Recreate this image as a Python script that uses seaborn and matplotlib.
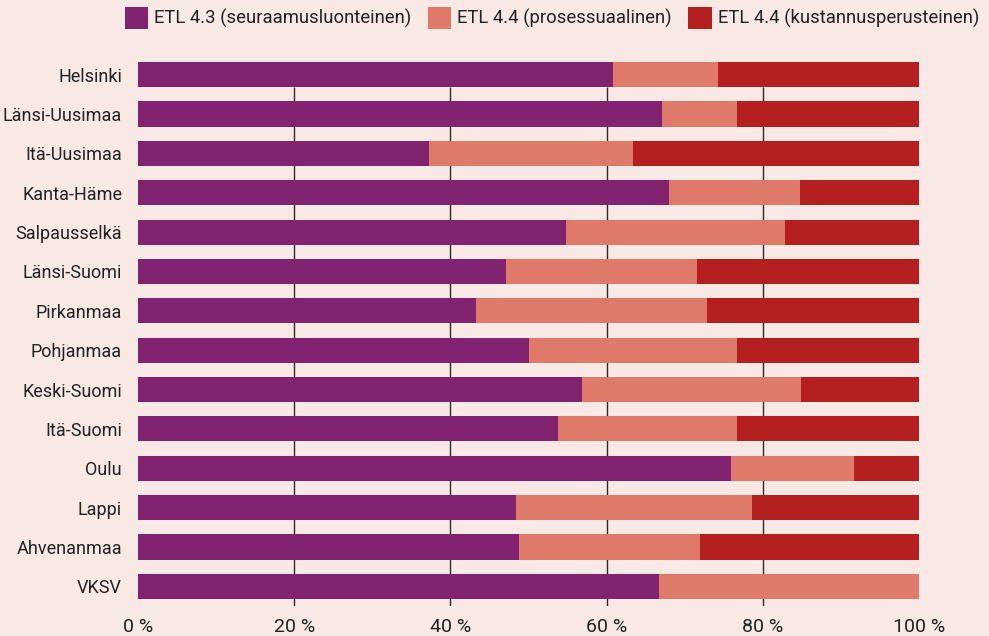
import matplotlib
matplotlib.use("Agg")
import matplotlib.pyplot as plt
import seaborn as sns
import pandas as pd
import numpy as np
from matplotlib.patches import Patch

regions = ["Helsinki", "Länsi-Uusimaa", "Itä-Uusimaa", "Kanta-Häme", "Salpausselkä",
           "Länsi-Suomi", "Pirkanmaa", "Pohjanmaa", "Keski-Suomi", "Itä-Suomi",
           "Oulu", "Lappi", "Ahvenanmaa", "VKSV"]
etl43 = [60.8, 67.1, 37.3, 68.0, 54.8, 47.1, 43.3, 50.1, 56.8, 53.8, 75.9, 48.4, 48.8, 66.7]
etl44_pros = [13.5, 9.6, 26.1, 16.8, 28.0, 24.5, 29.6, 26.6, 28.1, 22.9, 15.8, 30.2, 23.2, 33.3]
etl44_kust = [25.7, 23.3, 36.6, 15.2, 17.2, 28.4, 27.1, 23.3, 15.1, 23.3, 8.3, 21.4, 28.0, 0.0]
series_names = ["ETL 4.3 (seuraamusluonteinen)", "ETL 4.4 (prosessuaalinen)",
                "ETL 4.4 (kustannusperusteinen)"]
xticks = [0, 20, 40, 60, 80, 100]
xticklabels = ["0 %", "20 %", "40 %", "60 %", "80 %", "100 %"]

colors = ["#82236f", "#df7a6a", "#b41f20"]
bg = "#f9e9e4"

sns.set_theme(style="white")
plt.rcParams["font.family"] = ["Roboto", "DejaVu Sans"]
fs = 13.0

df = pd.DataFrame({"region": regions, "a": etl43, "b": etl44_pros, "c": etl44_kust})
df["ab"] = df["a"] + df["b"]
df["abc"] = df["ab"] + df["c"]

fig = plt.figure(figsize=(9.89, 6.36), dpi=100, facecolor=bg)
ax = fig.add_axes([138 / 989, 30 / 636, (919 - 138) / 989, (606 - 55) / 636])
ax.set_facecolor(bg)

ax.vlines([20, 40, 60, 80], ymin=0.32, ymax=13.62, colors="#2a2a2a", linewidth=1.0, zorder=0)

for col, c in zip(["abc", "ab", "a"], [colors[2], colors[1], colors[0]]):
    sns.barplot(data=df, x=col, y="region", orient="h", color=c, width=0.64,
                linewidth=0, saturation=1, ax=ax, zorder=2)

ax.set_xlim(0, 100)
ax.set_ylim(13.5, -0.5)
ax.set_xticks(xticks)
ax.set_xticklabels(xticklabels, fontsize=14, color="#222222")
ax.tick_params(axis="y", labelsize=fs, labelcolor="#222222", length=0, pad=11.5)
ax.tick_params(axis="x", length=0, pad=8.5)
ax.set_xlabel("")
ax.set_ylabel("")
for s in ax.spines.values():
    s.set_visible(False)

lfs = 13.3
handles = [Patch(facecolor=c, edgecolor="none") for c in colors]
leg = fig.legend(handles, series_names, loc="upper right", bbox_to_anchor=(979 / 989, 1 - 7 / 636),
                 ncol=3, frameon=False, fontsize=lfs, handlelength=1.25, handleheight=1.42,
                 handletextpad=0.33, columnspacing=0.9, borderaxespad=0, borderpad=0)
for t in leg.get_texts():
    t.set_color("#222222")

fig.savefig("out.png", dpi=100, facecolor=bg)
